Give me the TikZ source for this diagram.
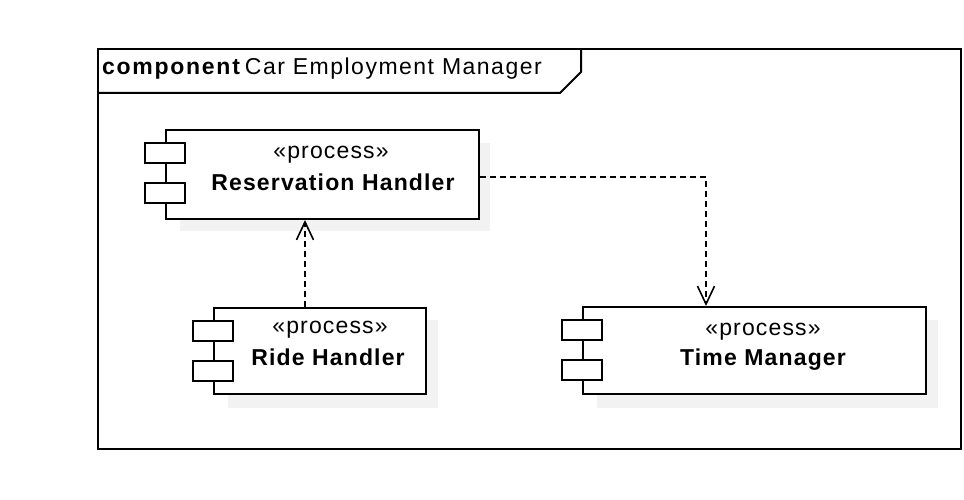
\documentclass[tikz,border=0pt]{standalone}
\usepackage{fontspec}
\setmainfont{Liberation Sans}[LetterSpace=5]
\newfontfamily\titlebold{Liberation Sans}[LetterSpace=7.5]
\newfontfamily\titlereg{Liberation Sans}[LetterSpace=6.5]
\usetikzlibrary{arrows.meta,calc}
\definecolor{shadowgray}{RGB}{242,242,242}
\tikzset{
  comp/.style={draw=black, line width=2pt, fill=white, anchor=north west, inner sep=0pt},
  port/.style={draw=black, line width=2pt, fill=white, minimum width=40pt, minimum height=20pt, inner sep=0pt},
  shade/.style={fill=shadowgray, draw=none},
  stereo/.style={anchor=base, inner sep=0pt, font=\fontsize{23}{30}\selectfont},
  cname/.style={anchor=base, inner sep=0pt, font=\fontsize{23}{30}\selectfont\bfseries},
  dep/.style={draw=black, line width=1.6pt, dash pattern=on 6pt off 4pt,
    -{Straight Barb[length=18pt,width=17pt,line width=1.6pt]}},
  framebox/.style={draw=black, line width=2pt},
}
\begin{document}
\begin{tikzpicture}[x=1pt,y=-1pt]
\useasboundingbox (0,0) rectangle (964,500);
% frame
\draw[framebox] (98,49) rectangle (961,449);
\draw[framebox] (98,93) -- (560,93) -- (581,72) -- (581,49);
\node[anchor=base west, inner sep=0pt, font=\fontsize{23}{30}\selectfont] (title) at (102,75)
  {{\titlebold\bfseries component}\hspace*{5pt}{\titlereg Car Employment Manager}};
% shadows
\fill[shade] (180,143) rectangle (490,231);
\fill[shade] (228,320) rectangle (438,408);
\fill[shade] (597,320) rectangle (938,408);
% components
\node[comp, minimum width=313pt, minimum height=89pt] (rh) at (165,129) {};
\node[comp, minimum width=212pt, minimum height=86pt] (ride) at (213,307) {};
\node[comp, minimum width=343pt, minimum height=87pt] (tm) at (582,306) {};
% ports
\foreach \c in {rh,ride,tm}{
  \node[port] (\c p1) at ($(\c.north west)+(0,24)$) {};
  \node[port] (\c p2) at ($(\c.north west)+(0,64)$) {};
}
% labels
\node[stereo] (rhs) at (331,158) {«process»};
\node[cname]  (rhn) at (333,190) {Reservation Handler};
\node[stereo] (rides) at (330,333) {«process»};
\node[cname]  (riden) at (328,365) {Ride Handler};
\node[stereo] (tms) at (763,335) {«process»};
\node[cname]  (tmn) at (763,365) {Time Manager};
% connectors
\coordinate (rhout) at ($(rh.north east)+(0,48)$);
\coordinate (tmin) at ($(tm.north west)+(124,0)$);
\draw[dep] (rhout) -| (tmin);
\coordinate (ridein) at ($(ride.north)+(-15,0)$);
\draw[dep] (ridein) -- (ridein |- rh.south);
\end{tikzpicture}
\end{document}
